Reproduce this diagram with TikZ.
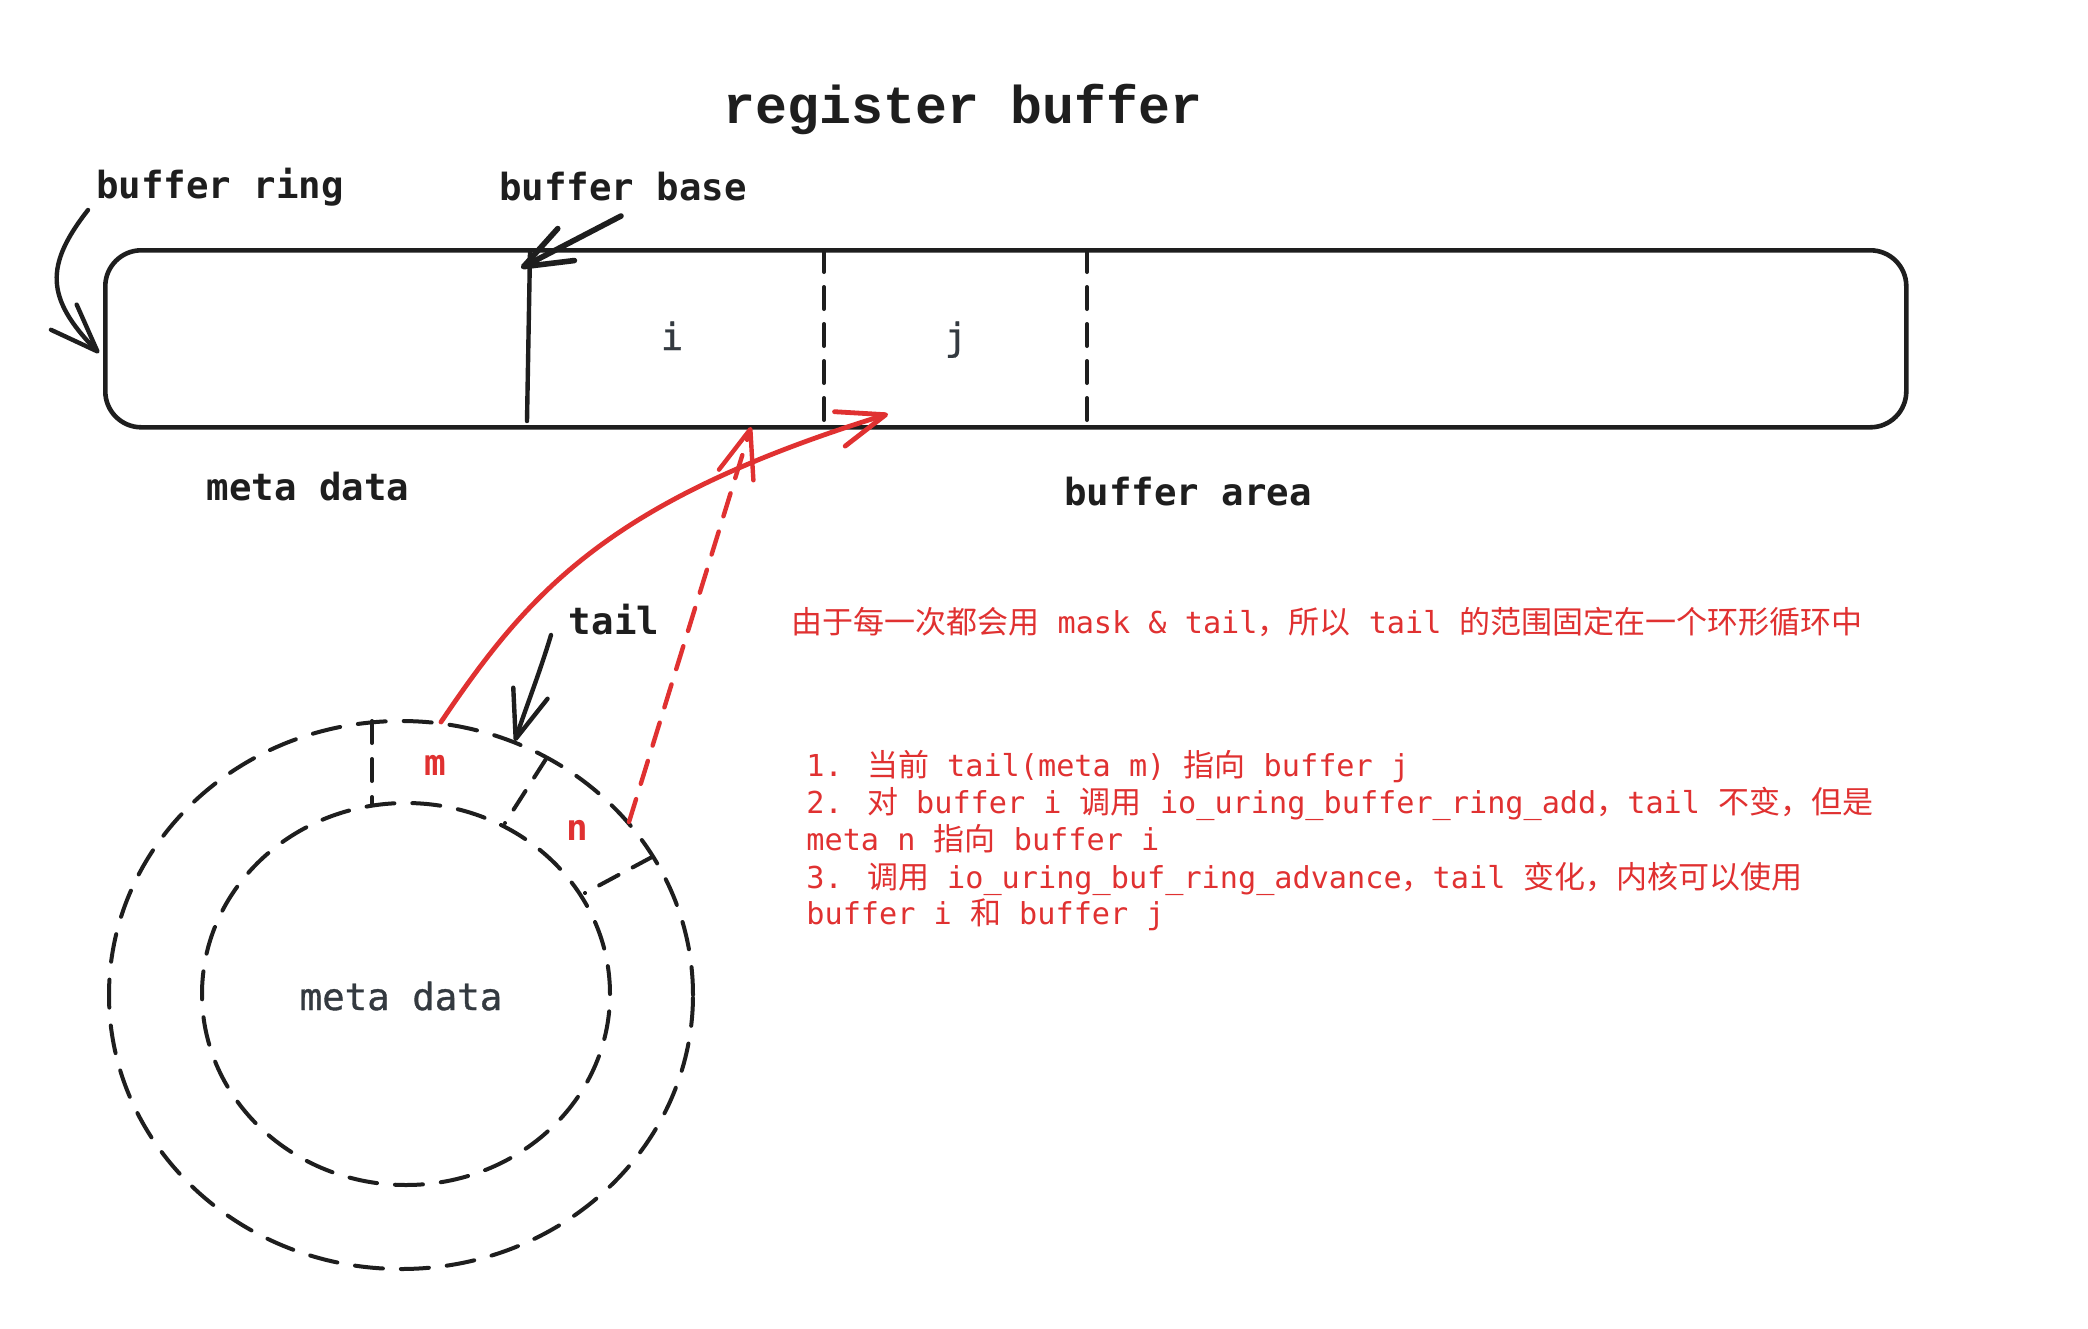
\documentclass[tikz,border=0pt]{standalone}
\usepackage{fontspec}
\setmainfont{DejaVu Sans Mono}
\newfontfamily\titlefont{Liberation Mono}
\newfontfamily\semibold[FakeBold=0.9]{DejaVu Sans Mono}
\newfontfamily\cjk[Scale=1.0265]{Noto Sans CJK SC}
\newcommand\zh[1]{{\cjk #1}}
\usetikzlibrary{arrows.meta,shapes.geometric}
\definecolor{ink}{HTML}{1E1E1E}
\definecolor{gray}{HTML}{343A40}
\definecolor{exred}{HTML}{E03131}
\tikzset{
  barb/.style={-{Straight Barb[length=24pt,width=18pt,round]}},
  inkline/.style={draw=ink,line width=2.2pt,line cap=round,line join=round},
  redline/.style={draw=exred,line width=2.4pt,line cap=round,line join=round},
  dashline/.style={draw=ink,line width=2pt,dash pattern=on 14pt off 9pt,line cap=round},
  reddash/.style={draw=exred,line width=2.2pt,dash pattern=on 12pt off 8pt,line cap=round},
  lbl/.style={text=ink,font=\fontsize{18.7}{22}\selectfont\bfseries,anchor=base,inner sep=0pt},
  glbl/.style={text=gray,font=\fontsize{18.7}{22}\selectfont\semibold,anchor=base,inner sep=0pt},
  redtxt/.style={text=exred,font=\fontsize{15.1}{18.6}\selectfont,anchor=base west,inner sep=0pt},
  cellmark/.style={text=exred,font=\fontsize{18}{21}\selectfont\bfseries,anchor=base,inner sep=0pt},
}
\begin{document}
\begin{tikzpicture}[x=0.5pt,y=-0.5pt]
\fill[white] (0,0) rectangle (2088,1328);
\useasboundingbox (0,0) rectangle (2088,1328);

% title
\node[text=ink,font=\fontsize{26.6}{30}\selectfont\titlefont\bfseries,anchor=base,inner sep=0pt] (title) at (963,123) {register buffer};

% buffer ring rectangle
\node[draw=ink,line width=2.3pt,rounded corners=18pt,minimum width=900.5pt,minimum height=88.5pt,inner sep=0pt,anchor=north west] (ring) at (103,248) {};
\coordinate (baseT) at (530,252);
\coordinate (baseB) at (527,421);
\draw[inkline] (baseT) -- (baseB);
\coordinate (d1T) at (824,250);
\coordinate (d1B) at (824,424);
\coordinate (d2T) at (1087,250);
\coordinate (d2B) at (1087,424);
\draw[dashline,dash pattern=on 11pt off 7.5pt] (d1T) -- (d1B);
\draw[dashline,dash pattern=on 11pt off 7.5pt] (d2T) -- (d2B);

\node[glbl] (li) at (672,350) {i};
\node[glbl] (lj) at (956,350) {j};

% labels
\node[lbl] (lring) at (220,198) {buffer ring};
\node[lbl] (lbase) at (623,200) {buffer base};
\node[lbl] (lmeta) at (308,500) {meta data};
\node[lbl] (larea) at (1188,505) {buffer area};
\node[lbl] (ltail) at (614,634) {tail};

% arrows black
\coordinate (ringS) at (88,210);
\coordinate (ringE) at (99,353);
\draw[inkline,barb] (ringS) .. controls (45,265) and (45,298) .. (ringE);
\coordinate (baseS) at (621,216);
\coordinate (baseE) at (521,268);
\draw[inkline,line width=2.8pt,barb] (baseS) -- (baseE);
\coordinate (tailS) at (551,635);
\coordinate (tailE) at (515,741);
\draw[inkline,barb] (tailS) .. controls (540,672) and (525,710) .. (tailE);

% circles
\node[ellipse,dashline,minimum width=292pt,minimum height=274pt,inner sep=0pt] (outer) at (401,995) {};
\node[ellipse,dashline,minimum width=204pt,minimum height=191pt,inner sep=0pt] (inner) at (406,994) {};
\node[glbl] (cmeta) at (401,1010) {meta data};

% cell separators
\coordinate (s1a) at (372,721);
\coordinate (s1b) at (372,804);
\coordinate (s2a) at (546,759);
\coordinate (s2b) at (505,823);
\coordinate (s3a) at (652,857);
\coordinate (s3b) at (585,893);
\draw[dashline,dash pattern=on 11pt off 8pt] (s1a) -- (s1b);
\draw[dashline,dash pattern=on 11pt off 8pt] (s2a) -- (s2b);
\draw[dashline,dash pattern=on 11pt off 8pt] (s3a) -- (s3b);
\node[cellmark] (cm) at (435,775) {m};
\node[cellmark] (cn) at (577,840) {n};

% red arrows
\coordinate (mS) at (441,722);
\coordinate (jE) at (888,414);
\draw[redline,barb] (mS) .. controls (530,590) and (610,500) .. (jE);
\coordinate (nS) at (629,822);
\coordinate (iE) at (751,427);
\draw[reddash,barb] (nS) -- (iE);

% red texts
\node[redtxt] (note) at (791,633) {\zh{由于每一次都会用} mask \& tail\zh{，所以} tail \zh{的范围固定在一个环形循环中}};
\node[redtxt] (l1) at (806,776) {1. \zh{当前} tail(meta m) \zh{指向} buffer j};
\node[redtxt] (l2) at (806,813) {2. \zh{对} buffer i \zh{调用} io\_uring\_buffer\_ring\_add\zh{，}tail \zh{不变，但是}};
\node[redtxt] (l3) at (806,850) {meta n \zh{指向} buffer i};
\node[redtxt] (l4) at (806,888) {3. \zh{调用} io\_uring\_buf\_ring\_advance\zh{，}tail \zh{变化，内核可以使用}};
\node[redtxt] (l5) at (806,924) {buffer i \zh{和} buffer j};
\end{tikzpicture}
\end{document}
